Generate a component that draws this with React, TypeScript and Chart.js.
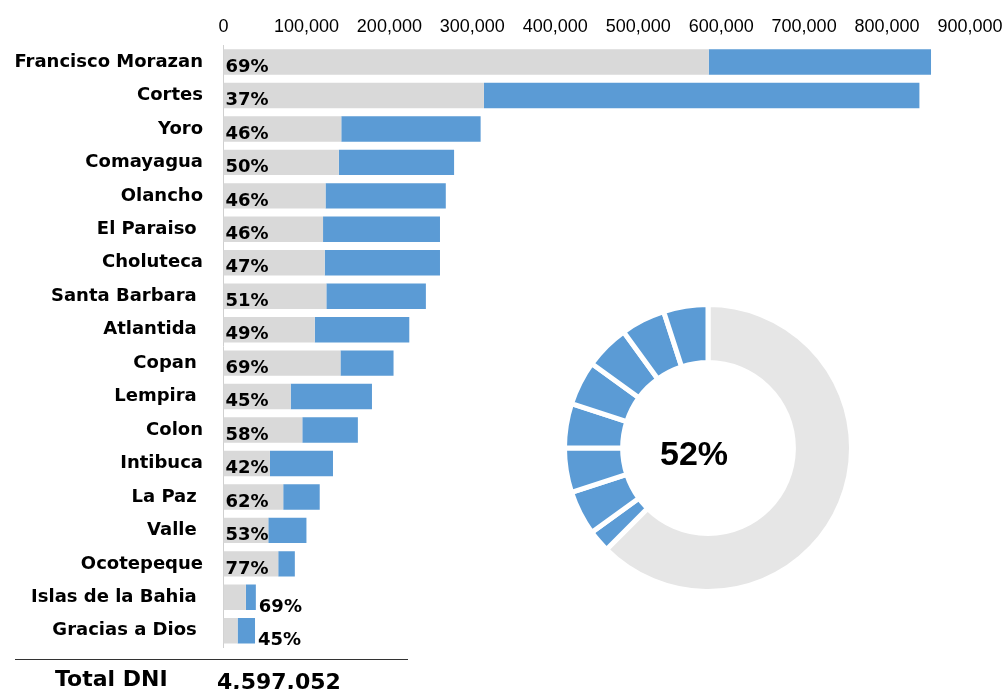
import React, { useEffect, useRef } from 'react';
import { Chart, registerables } from 'chart.js';

Chart.register(...registerables);

const departments = [
  'Francisco Morazan', 'Cortes', 'Yoro', 'Comayagua', 'Olancho', 'El Paraiso ',
  'Choluteca', 'Santa Barbara ', 'Atlantida ', 'Copan ', 'Lempira ', 'Colon',
  'Intibuca', 'La Paz ', 'Valle ', 'Ocotepeque', 'Islas de la Bahia ', 'Gracias a Dios ',
];
const completed = [585000, 314000, 142000, 139000, 123000, 120000, 122000, 124000, 110000, 141000, 81000, 95000, 56000, 72000, 54000, 66000, 27000, 17000];
const pending = [268000, 525000, 168000, 139000, 145000, 141000, 139000, 120000, 114000, 64000, 98000, 67000, 76000, 44000, 46000, 20000, 12000, 21000];
const percentLabels = ['69%', '37%', '46%', '50%', '46%', '46%', '47%', '51%', '49%', '69%', '45%', '58%', '42%', '62%', '53%', '77%', '69%', '45%'];
const xTickLabels = ['0', '100,000', '200,000', '300,000', '400,000', '500,000', '600,000', '700,000', '800,000', '900,000'];

const donutValues = [62.5, 2.5, 5, 5, 5, 5, 5, 5, 5];
const donutCenterLabel = '52%';
const totalLabel = 'Total DNI';
const totalValue = '4,597,052';

const GRAY = '#d9d9d9';
const BLUE = '#5b9bd5';
const DONUT_GRAY = '#e6e6e6';

const percentPlugin = {
  id: 'percentLabels',
  afterDatasetsDraw(chart: any) {
    const ctx = chart.ctx;
    const m0 = chart.getDatasetMeta(0);
    const m1 = chart.getDatasetMeta(1);
    const left = chart.chartArea.left;
    ctx.save();
    ctx.font = 'bold 18px "DejaVu Sans"';
    ctx.fillStyle = '#000';
    ctx.textAlign = 'left';
    ctx.textBaseline = 'middle';
    m0.data.forEach((bar: any, i: number) => {
      const end = m1.data[i].x;
      const width = end - left;
      if (width < 50) {
        ctx.fillText(percentLabels[i], end + 3, bar.y + 10);
      } else {
        ctx.fillText(percentLabels[i], left + 2, bar.y + 5);
      }
    });
    ctx.restore();
  },
};

const centerTextPlugin = {
  id: 'centerText',
  afterDraw(chart: any) {
    const meta = chart.getDatasetMeta(0);
    const arc = meta.data[0];
    if (!arc) return;
    const ctx = chart.ctx;
    ctx.save();
    ctx.font = 'bold 34px "Liberation Sans"';
    ctx.fillStyle = '#000';
    ctx.textAlign = 'center';
    ctx.textBaseline = 'middle';
    ctx.fillText(donutCenterLabel, arc.x - 14, arc.y + 8);
    ctx.restore();
  },
};

export default function App() {
  const barRef = useRef<HTMLCanvasElement>(null);
  const donutRef = useRef<HTMLCanvasElement>(null);

  useEffect(() => {
    const bar = new Chart(barRef.current!, {
      type: 'bar',
      data: {
        labels: departments,
        datasets: [
          { label: 'Completado', data: completed, backgroundColor: GRAY, barPercentage: 0.76, categoryPercentage: 1 },
          { label: 'Pendiente', data: pending, backgroundColor: BLUE, barPercentage: 0.76, categoryPercentage: 1 },
        ],
      },
      options: {
        indexAxis: 'y',
        responsive: false,
        animation: false,
        layout: { padding: { left: 0, right: 37, top: 0, bottom: 41.5 } },
        plugins: { legend: { display: false }, tooltip: { enabled: false } },
        scales: {
          x: {
            position: 'top',
            stacked: true,
            min: 0,
            max: 900000,
            grid: { display: false, drawTicks: true, tickLength: 3 },
            border: { display: false },
            ticks: {
              stepSize: 100000,
              padding: 4,
              color: '#000',
              maxRotation: 0,
              autoSkip: false,
              font: { family: '"Liberation Sans"', size: 18 },
              callback: (_v: any, i: number) => xTickLabels[i],
            },
            afterFit: (s: any) => { s.height = 45.3; },
          },
          y: {
            stacked: true,
            grid: { display: false, drawTicks: false },
            border: { display: true, color: '#d0d0d0', width: 1 },
            ticks: {
              padding: 20.5,
              color: '#000',
              autoSkip: false,
              font: { family: '"DejaVu Sans"', size: 18, weight: 'bold' },
            },
            afterFit: (s: any) => { s.width = 223.5; },
          },
        },
      },
      plugins: [percentPlugin],
    } as any);

    const donut = new Chart(donutRef.current!, {
      type: 'doughnut',
      data: {
        labels: donutValues.map((_, i) => String(i)),
        datasets: [
          {
            data: donutValues,
            backgroundColor: donutValues.map((_, i) => (i === 0 ? DONUT_GRAY : BLUE)),
            borderColor: '#ffffff',
            borderWidth: 5,
            borderAlign: 'center',
            borderJoinStyle: 'miter',
          },
        ],
      },
      options: {
        responsive: false,
        animation: false,
        cutout: '59.5%',
        layout: { padding: 0 },
        plugins: { legend: { display: false }, tooltip: { enabled: false } },
      },
      plugins: [centerTextPlugin],
    } as any);

    return () => {
      bar.destroy();
      donut.destroy();
    };
  }, []);

  return (
    <div style={{ position: 'absolute', left: 0, top: 0, width: 1007, height: 689, background: '#fff', overflow: 'hidden' }}>
      <canvas ref={barRef} width={1007} height={689} style={{ position: 'absolute', left: 0, top: 0 }} />
      <canvas ref={donutRef} width={292} height={292} style={{ position: 'absolute', left: 562, top: 302 }} />
      <div style={{ position: 'absolute', left: 15, top: 659, width: 393, height: 1, background: '#333' }} />
      <div style={{ position: 'absolute', left: 55, top: 666, font: 'bold 22px "DejaVu Sans"', color: '#000', whiteSpace: 'nowrap' }}>{totalLabel}</div>
      <div style={{ position: 'absolute', left: 217, top: 669, font: 'bold 22px "DejaVu Sans"', color: '#000', whiteSpace: 'nowrap' }}>{totalValue}</div>
    </div>
  );
}
